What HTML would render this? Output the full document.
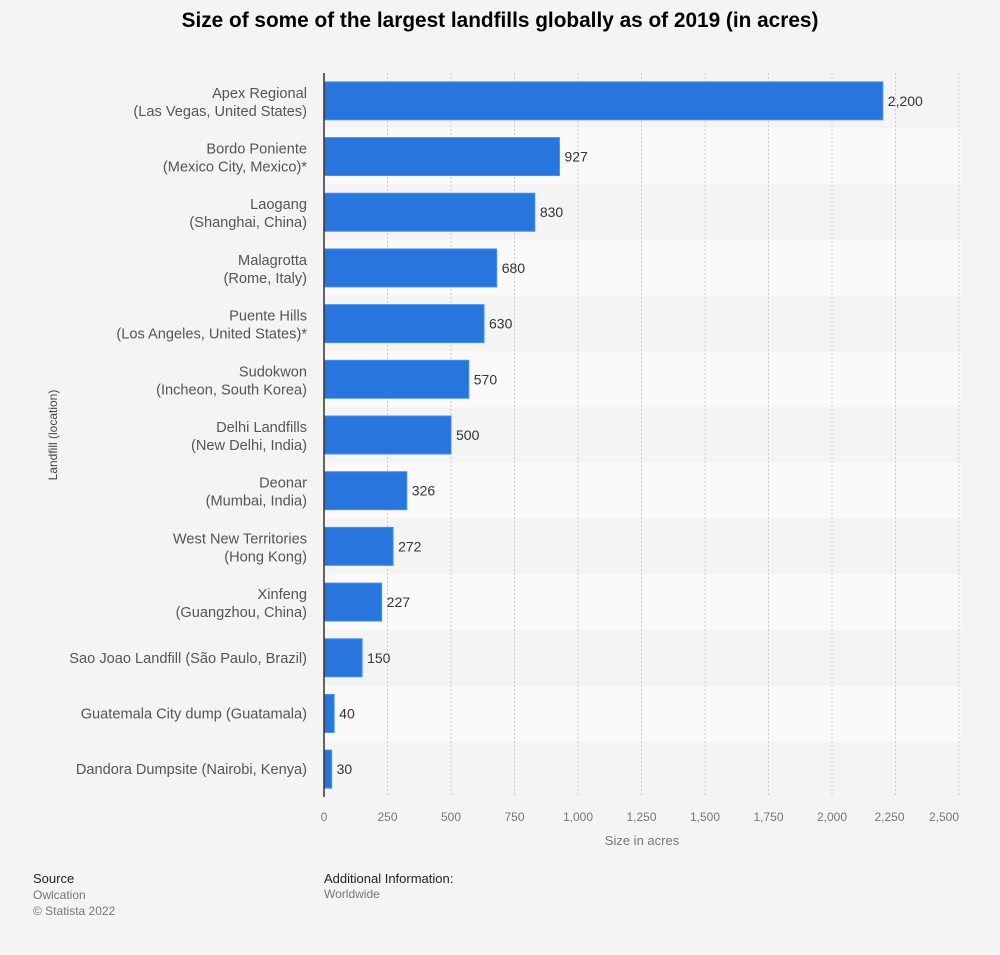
<!DOCTYPE html>
<html><head><meta charset="utf-8"><style>
body{margin:0;background:#f4f4f4;font-family:"Liberation Sans",sans-serif;}
#wrap{position:relative;width:1000px;height:955px;overflow:hidden;}
.t{position:absolute;}
</style></head><body>
<div id="wrap">
<div class="t" style="left:0;width:1000px;top:9px;text-align:center;font-weight:bold;font-size:20.8px;color:#000;">Size of some of the largest landfills globally as of 2019 (in acres)</div>
<svg id="chart" width="1000" height="955" style="position:absolute;left:0;top:0"></svg>
<div class="t" style="left:33px;top:871px;font-size:13px;color:#222;">Source</div>
<div class="t" style="left:33px;top:887px;font-size:12px;color:#777;line-height:16px;">Owlcation<br>© Statista 2022</div>
<div class="t" style="left:324px;top:871px;font-size:13px;color:#222;">Additional Information:</div>
<div class="t" style="left:324px;top:887px;font-size:12px;color:#777;">Worldwide</div>
</div>
<script>
const names=[["Apex Regional","(Las Vegas, United States)"],["Bordo Poniente","(Mexico City, Mexico)*"],["Laogang","(Shanghai, China)"],["Malagrotta","(Rome, Italy)"],["Puente Hills","(Los Angeles, United States)*"],["Sudokwon","(Incheon, South Korea)"],["Delhi Landfills","(New Delhi, India)"],["Deonar","(Mumbai, India)"],["West New Territories","(Hong Kong)"],["Xinfeng","(Guangzhou, China)"],["Sao Joao Landfill (São Paulo, Brazil)"],["Guatemala City dump (Guatamala)"],["Dandora Dumpsite (Nairobi, Kenya)"]];
const values=[2200,927,830,680,630,570,500,326,272,227,150,40,30];
const ticks=[0,250,500,750,1000,1250,1500,1750,2000,2250,2500];
const tickLabels=["0","250","500","750","1,000","1,250","1,500","1,750","2,000","2,250","2,500"];
const svg=document.getElementById('chart');
const NS='http://www.w3.org/2000/svg';
const x0=324,xMax=2500,pw=635,top0=73,rowH=(797-73)/values.length;
const x=v=>x0+v/xMax*pw;
function mk(tag,a){const e=document.createElementNS(NS,tag);for(const k in a)e.setAttribute(k,a[k]);svg.appendChild(e);return e;}
values.forEach((v,i)=>{
 if(i%2===1){const r=mk('rect',{x:x0,y:top0+i*rowH,width:pw+2,height:rowH,fill:'#fafafa'});
 
 }
});
ticks.forEach((t,i)=>{
 if(i>0){const g=mk('line',{x1:x(t),x2:x(t),y1:top0,y2:797,stroke:'#ccc','stroke-dasharray':'2,2'});
 
 }
 let lx=x(t);if(i===ticks.length-2)lx-=6;if(i===ticks.length-1)lx-=15;
 const tl=mk('text',{x:lx,y:821,'text-anchor':'middle','font-size':12,fill:'#777'});tl.textContent=tickLabels[i];
 
 
});
values.forEach((v,i)=>{
 const cy=top0+i*rowH+rowH/2;
 const b=mk('rect',{x:x0,y:cy-19,width:x(v)-x0,height:38,fill:'#2876dd',stroke:'#4b8fe6','stroke-width':1});
 
 
 const vl=mk('text',{x:x(v)+5,y:cy+5,'font-size':14,fill:'#333'});vl.textContent=v.toLocaleString('en-US');
 
 
 const n=names[i];
 n.forEach((s,j)=>{
  const yy=n.length===2?cy-3+j*18:cy+5;
  const c=mk('text',{x:307,y:yy,'text-anchor':'end','font-size':14.6,fill:'#555'});c.textContent=s;
  
  
 });
});
const ax=mk('line',{x1:x0,x2:x0,y1:top0,y2:797,stroke:'#333','stroke-width':1.5});


const xt=mk('text',{x:642,y:845,'text-anchor':'middle','font-size':13,fill:'#777'});xt.textContent='Size in acres';


const yt=mk('text',{x:0,y:0,'text-anchor':'middle','font-size':12,fill:'#444',transform:'translate(57,435) rotate(-90)'});yt.textContent='Landfill (location)';


</script>
</body></html>
